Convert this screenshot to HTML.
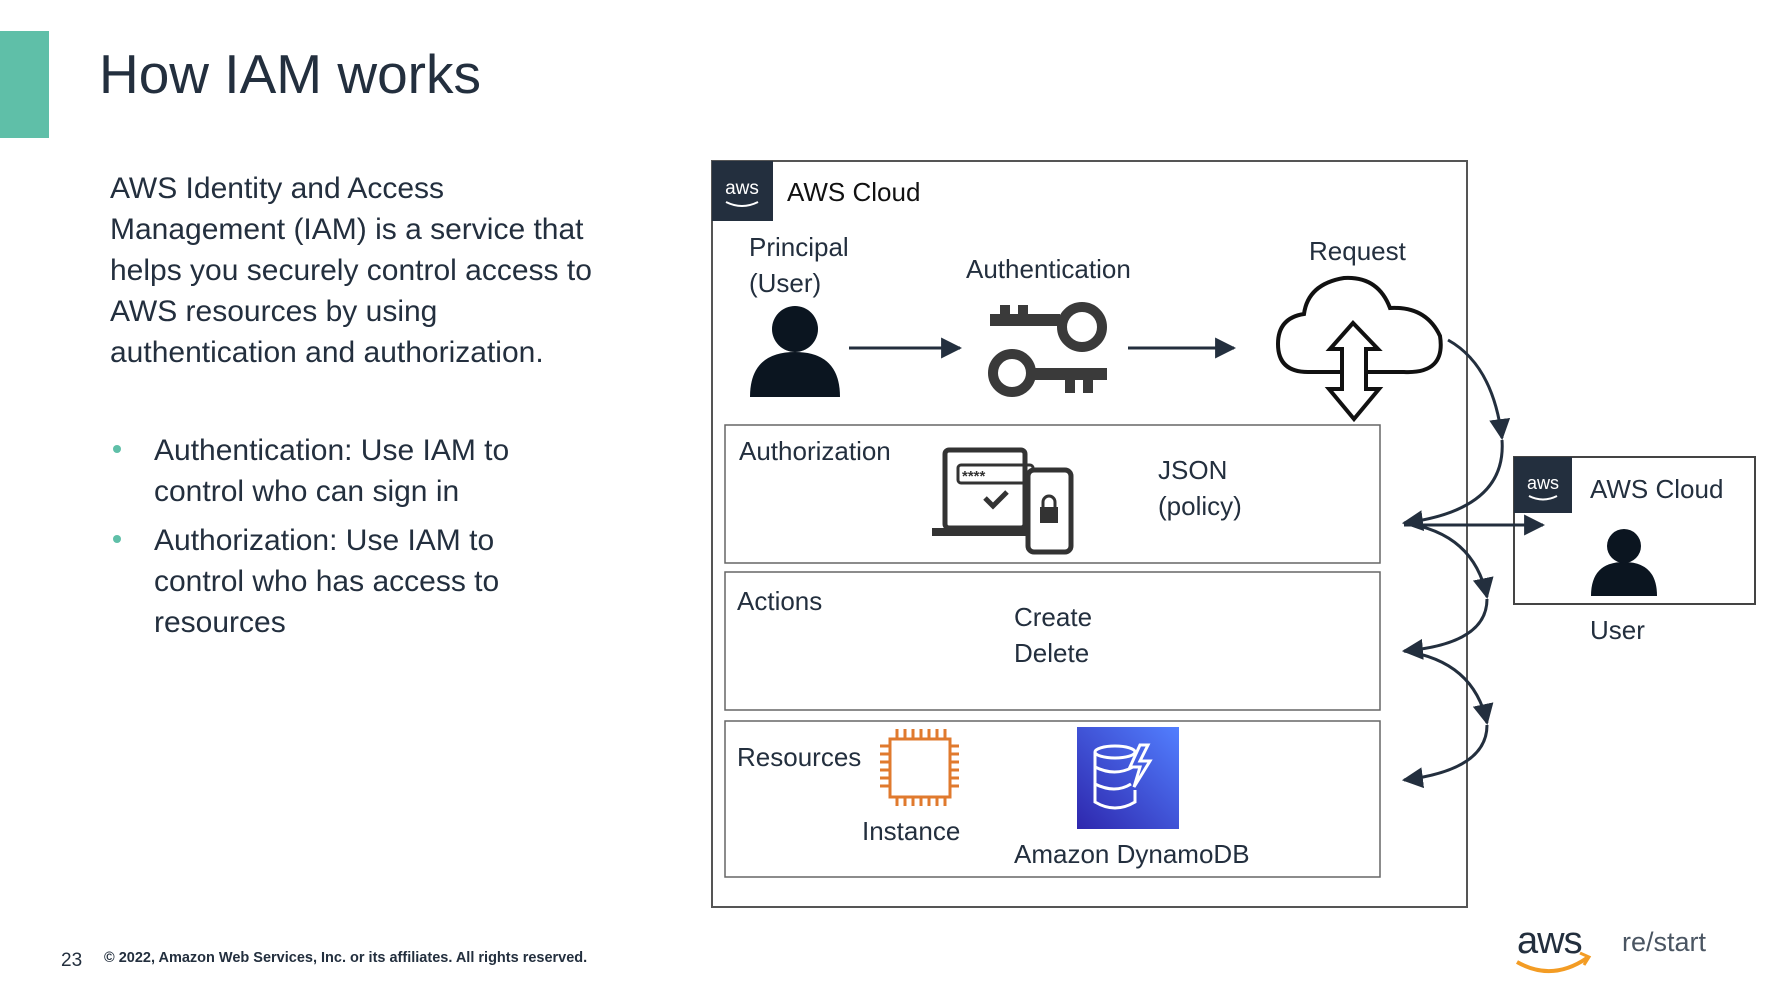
<!DOCTYPE html>
<html><head><meta charset="utf-8"><style>
html,body{margin:0;padding:0;background:#fff}
svg{display:block}
text{font-family:"Liberation Sans",sans-serif}
</style></head><body>
<svg width="1791" height="1000" viewBox="0 0 1791 1000" xmlns="http://www.w3.org/2000/svg">
<defs>
<marker id="ah" viewBox="0 0 10 10" refX="9" refY="5" markerWidth="7" markerHeight="7" orient="auto"><path d="M0,0 L10,5 L0,10 z" fill="#232f3e"/></marker>
</defs>
<rect x="0" y="31" width="49" height="107" fill="#5fbfa8"/>
<text x="99" y="93" font-size="55" fill="#232f3e">How IAM works</text>
<g font-size="30" fill="#232f3e">
<text x="110" y="198">AWS Identity and Access</text>
<text x="110" y="239">Management (IAM) is a service that</text>
<text x="110" y="280">helps you securely control access to</text>
<text x="110" y="321">AWS resources by using</text>
<text x="110" y="362">authentication and authorization.</text>
<text x="154" y="460">Authentication: Use IAM to</text>
<text x="154" y="501">control who can sign in</text>
<text x="154" y="550">Authorization: Use IAM to</text>
<text x="154" y="591">control who has access to</text>
<text x="154" y="632">resources</text>
</g>
<circle cx="117" cy="449" r="4" fill="#5fbfa8"/>
<circle cx="117" cy="539" r="4" fill="#5fbfa8"/>

<rect x="712" y="161" width="755" height="746" fill="none" stroke="#555" stroke-width="2"/>
<rect x="712" y="161" width="61" height="60" fill="#232f3e"/>
<text x="742" y="194" font-size="19" fill="#fff" text-anchor="middle">aws</text>
<path d="M726,202 q16,8 32,0" stroke="#fff" stroke-width="2" fill="none"/>
<text x="787" y="201" font-size="26" fill="#111">AWS Cloud</text>

<g font-size="26" fill="#232f3e">
<text x="749" y="256">Principal</text>
<text x="749" y="292">(User)</text>
<text x="966" y="278">Authentication</text>
<text x="1309" y="260">Request</text>
<text x="739" y="460">Authorization</text>
<text x="1158" y="479">JSON</text>
<text x="1158" y="515">(policy)</text>
<text x="737" y="610">Actions</text>
<text x="1014" y="626">Create</text>
<text x="1014" y="662">Delete</text>
<text x="737" y="766">Resources</text>
<text x="862" y="840">Instance</text>
<text x="1014" y="863">Amazon DynamoDB</text>
<text x="1590" y="498">AWS Cloud</text>
<text x="1590" y="639">User</text>
</g>

<circle cx="795" cy="329" r="23" fill="#0b1520"/>
<path d="M750,397 q0,-45 45,-45 q45,0 45,45 z" fill="#0b1520"/>
<line x1="849" y1="348" x2="960" y2="348" stroke="#232f3e" stroke-width="3" marker-end="url(#ah)"/>
<g fill="#3a3a3a">
<rect x="990" y="314" width="70" height="12"/><rect x="1000" y="305" width="10" height="12"/><rect x="1018" y="305" width="10" height="12"/>
<circle cx="1082" cy="327" r="20" fill="none" stroke="#3a3a3a" stroke-width="10"/>
<rect x="1030" y="368" width="77" height="12"/><rect x="1065" y="376" width="10" height="17"/><rect x="1083" y="376" width="10" height="17"/>
<circle cx="1012" cy="373" r="19" fill="none" stroke="#3a3a3a" stroke-width="10"/>
</g>
<line x1="1128" y1="348" x2="1234" y2="348" stroke="#232f3e" stroke-width="3" marker-end="url(#ah)"/>
<path d="M1308,372 q-30,0 -30,-28 q0,-26 26,-30 q4,-30 40,-36 q34,-2 46,30 q36,-2 50,28 q6,38 -36,36 z" fill="none" stroke="#111" stroke-width="4"/>
<path d="M1353,323 l-23,26 h12 v40 h-13 l25,30 l25,-30 h-13 v-40 h12 z" fill="#fff" stroke="#111" stroke-width="4"/>

<rect x="725" y="425" width="655" height="138" fill="none" stroke="#666" stroke-width="1.5"/>
<rect x="725" y="572" width="655" height="138" fill="none" stroke="#666" stroke-width="1.5"/>
<rect x="725" y="721" width="655" height="156" fill="none" stroke="#666" stroke-width="1.5"/>

<g stroke="#333" fill="none" stroke-width="5">
<rect x="945" y="450" width="80" height="78" rx="4"/>
<rect x="958" y="465" width="75" height="18" rx="3" stroke-width="3"/>
<path d="M985,498 l8,8 l14,-14"/>
<rect x="1028" y="470" width="43" height="82" rx="6" fill="#fff"/>
</g>
<rect x="932" y="528" width="96" height="8" fill="#333"/>
<text x="962" y="481" font-size="15" fill="#333" font-weight="bold">****</text>
<rect x="1040" y="507" width="18" height="16" fill="#333"/>
<path d="M1043,508 v-6 a6,6 0 0 1 12,0 v6" stroke="#333" stroke-width="3" fill="none"/>

<g stroke="#e07a2e" stroke-width="3" fill="none">
<rect x="890" y="739" width="60" height="58"/>
<path d="M897,729v10M905,729v10M913,729v10M921,729v10M929,729v10M937,729v10M945,729v10M897,797v9M905,797v9M913,797v9M921,797v9M929,797v9M937,797v9M945,797v9M880,746h10M880,754h10M880,762h10M880,770h10M880,778h10M880,786h10M950,746h9M950,754h9M950,762h9M950,770h9M950,778h9M950,786h9"/>
</g>
<defs><linearGradient id="dg" x1="0" y1="1" x2="1" y2="0"><stop offset="0" stop-color="#2e27ad"/><stop offset="1" stop-color="#527fff"/></linearGradient></defs>
<rect x="1077" y="727" width="102" height="102" fill="url(#dg)"/>
<g stroke="#fff" stroke-width="3" fill="none">
<ellipse cx="1115" cy="752" rx="20" ry="6"/>
<path d="M1095,752 v50 q20,12 40,0 v-12 M1095,767 q20,10 38,0 M1095,784 q20,10 36,0"/>
<path d="M1140,745 l-10,22 h10 l-6,20 l16,-26 h-10 l8,-16 z"/>
</g>

<rect x="1514" y="457" width="241" height="147" fill="none" stroke="#444" stroke-width="2"/>
<rect x="1514" y="457" width="58" height="56" fill="#232f3e"/>
<text x="1543" y="489" font-size="18" fill="#fff" text-anchor="middle">aws</text>
<path d="M1529,496 q14,7 28,0" stroke="#fff" stroke-width="2" fill="none"/>
<circle cx="1624" cy="546" r="17" fill="#0b1520"/>
<path d="M1591,596 q0,-34 33,-34 q33,0 33,34 z" fill="#0b1520"/>

<g stroke="#232f3e" stroke-width="3" fill="none">
<path d="M1448,340 q45,25 54,98" marker-end="url(#ah)"/>
<path d="M1502,440 q5,70 -98,83" marker-end="url(#ah)"/>
<path d="M1404,525 L1543,525" marker-end="url(#ah)"/>
<path d="M1404,523 q70,10 83,74" marker-end="url(#ah)"/>
<path d="M1487,599 q0,45 -83,52" marker-end="url(#ah)"/>
<path d="M1404,651 q70,10 83,72" marker-end="url(#ah)"/>
<path d="M1487,725 q0,45 -83,55" marker-end="url(#ah)"/>
</g>

<text x="61" y="966" font-size="19" fill="#232f3e">23</text>
<text x="104" y="962" font-size="14.5" font-weight="bold" fill="#232f3e">© 2022, Amazon Web Services, Inc. or its affiliates. All rights reserved.</text>
<text x="1517" y="953" font-size="38" fill="#232f3e" letter-spacing="-1">aws</text>
<path d="M1517,962 q35,20 70,-4" stroke="#f39c24" stroke-width="4" fill="none"/>
<path d="M1580,953 l9,4 l-5,8" stroke="#f39c24" stroke-width="3" fill="none"/>
<text x="1622" y="951" font-size="27" fill="#4a5562">re/start</text>
</svg>
</body></html>
